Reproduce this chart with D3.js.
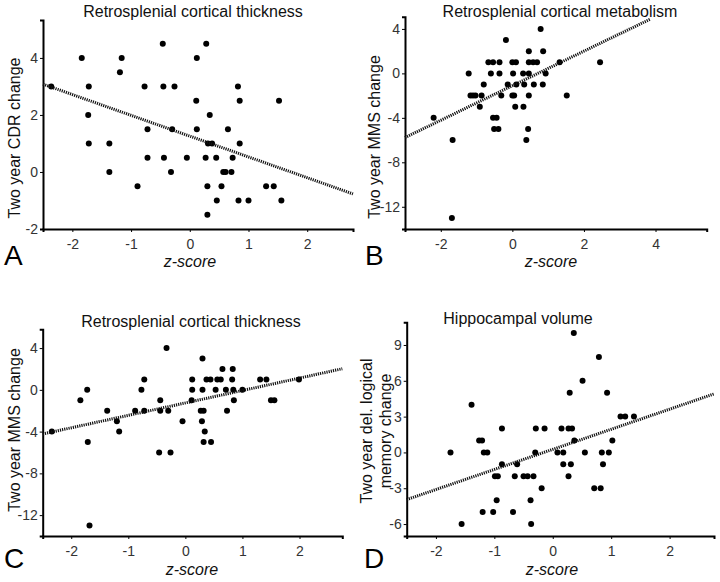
<!DOCTYPE html>
<html><head><meta charset="utf-8">
<script src="https://cdn.jsdelivr.net/npm/d3@7"></script>
<style>
body{margin:0;background:#fff}
text{font-family:"Liberation Sans",Arial,sans-serif}
</style>
</head><body>
<svg id="chart" width="720" height="582"></svg>
<script>
// ---------- data ----------
const titles = ["Retrosplenial cortical thickness","Retrosplenial cortical metabolism","Retrosplenial cortical thickness","Hippocampal volume"];
const yLabels = [["Two year CDR change"],["Two year MMS change"],["Two year MMS change"],["Two year del. logical","memory change"]];
const panelLetters = ["A","B","C","D"];
const xLabel = "z-score";

const xTicksA = [-2,-1,0,1,2];
const xTicksB = [-2,0,2,4];
const xTicksC = [-2,-1,0,1,2];
const xTicksD = [-2,-1,0,1,2];
const yTicksA = [-2,0,2,4];
const yTicksB = [-12,-8,-4,0,4];
const yTicksC = [-12,-8,-4,0,4];
const yTicksD = [-6,-3,0,3,6,9];

const xDomainA = [-2.5,2.78], yDomainA = [-2,5.33];
const xDomainB = [-3,5.43],   yDomainB = [-14,5.1];
const xDomainC = [-2.5,2.75], yDomainC = [-14,5.8];
const xDomainD = [-2.5,2.76], yDomainD = [-7,10.9];

const pointsA = [[-2.36,3],[-1.84,4],[-1.72,3],[-1.73,2],[-1.72,1],[-1.37,1],[-1.37,0],[-1.16,4],[-1.19,3.5],[-0.89,-0.5],[-0.77,3],[-0.72,1.5],[-0.72,0.5],[-0.46,4.5],[-0.45,3],[-0.44,0.5],[-0.30,1.5],[-0.32,0],[-0.26,3],[-0.05,0.5],[0.12,4],[0.11,2.5],[0.12,1.5],[0.28,4.5],[0.27,0.5],[0.30,-0.5],[0.30,-1.5],[0.31,1],[0.34,2],[0.38,1],[0.45,0.5],[0.46,-1],[0.54,-0.5],[0.57,0],[0.61,0],[0.65,1.5],[0.71,0],[0.73,0.5],[0.82,3],[0.85,2.5],[0.85,1],[0.83,-1],[1.0,-1],[1.30,-0.5],[1.43,-0.5],[1.52,2.5],[1.56,-1]];
const pointsB = [[-2.20,-4],[-1.67,-6],[-1.69,-13],[-1.22,0],[-1.17,-2],[-1.10,-2],[-1.03,-2],[-0.91,-3],[-0.86,-2],[-0.80,-1],[-0.67,1],[-0.54,1],[-0.60,0],[-0.54,-4],[-0.44,-4],[-0.51,-5],[-0.39,-5],[-0.36,1],[-0.36,0],[-0.31,-2],[-0.18,3],[-0.13,-1],[0.0,1],[0.1,1],[0.02,0],[0,-2],[0.05,-2],[0.08,-3],[0.11,-1],[0.30,0],[0.31,-3],[0.33,-1],[0.39,-6],[0.44,-5],[0.46,1],[0.58,1],[0.69,1],[0.46,2],[0.46,0],[0.46,-2],[0.60,-1],[0.79,4],[0.86,2],[0.85,-1],[0.93,0],[1.32,1],[1.52,-2],[2.45,1]];
const pointsC = [[-2.34,-4],[-1.84,-1],[-1.72,0],[-1.71,-5],[-1.68,-13],[-1.37,-2],[-1.20,-3],[-1.16,-4],[-0.88,-2],[-0.77,0],[-0.72,1],[-0.72,-2],[-0.44,-1],[-0.44,-2],[-0.30,-2],[-0.33,4],[-0.46,-6],[-0.26,-6],[-0.05,-3],[0.12,1],[0.12,0],[0.11,-1],[0.27,-2],[0.32,-2],[0.29,-3],[0.30,3],[0.30,0],[0.34,-4],[0.32,-5],[0.45,-5],[0.37,1],[0.44,1],[0.56,1],[0.62,1],[0.65,2],[0.83,2],[0.82,1],[0.53,0],[0.71,0],[0.84,0],[1.0,0],[0.85,-1],[0.73,-2],[1.31,1],[1.42,1],[1.99,1],[1.50,-1],[1.56,-1]];
const pointsD = [[-1.75,0],[-1.56,-6],[-1.39,4],[-1.26,1],[-1.21,1],[-1.18,0],[-1.12,0],[-0.87,2],[-0.87,-1],[-0.99,-2],[-0.94,-2],[-0.96,-4],[-1.20,-5],[-1.02,-5],[-0.68,-5],[-0.61,-1],[-0.65,-2],[-0.50,-2],[-0.43,-2],[-0.33,-2],[-0.38,-4],[-0.37,-6],[-0.19,-3],[-0.30,0],[-0.29,2],[-0.14,2],[0.08,0],[0.18,0],[0.15,2],[0.27,2],[0.33,2],[0.18,-1],[0.31,-1],[0.27,-2],[0.29,5],[0.36,10],[0.79,8],[0.51,6],[0.93,5],[1.16,3],[1.24,3],[1.39,3],[0.37,1],[1.02,1],[0.55,0],[0.84,0],[0.96,0],[0.86,-1],[0.71,-3],[0.82,-3]];

const fitA = [[-2.5,3.08],[2.78,-0.77]];
const fitB = [[-3,-5.77],[3.84,4.86]];
const fitC = [[-2.5,-4.23],[2.75,2.02]];
const fitD = [[-2.5,-3.95],[2.76,4.9]];

// ---------- layout ----------
const panels = [
  {pts:pointsA, fit:fitA, xd:xDomainA, yd:yDomainA, xt:xTicksA, yt:yTicksA,
   box:{l:43,r:353,t:20,b:229}, title:{x:193,y:17}, yl:{x:20,y:138}, xl:{x:190,y:267}, letter:{x:4,y:265}},
  {pts:pointsB, fit:fitB, xd:xDomainB, yd:yDomainB, xt:xTicksB, yt:yTicksB,
   box:{l:405,r:706.7,t:16.7,b:229}, title:{x:560,y:17}, yl:{x:380,y:137}, xl:{x:551,y:267}, letter:{x:365,y:265}},
  {pts:pointsC, fit:fitC, xd:xDomainC, yd:yDomainC, xt:xTicksC, yt:yTicksC,
   box:{l:42.7,r:342.3,t:329.3,b:536}, title:{x:191,y:326.5}, yl:{x:20,y:430}, xl:{x:192,y:575}, letter:{x:4,y:568}},
  {pts:pointsD, fit:fitD, xd:xDomainD, yd:yDomainD, xt:xTicksD, yt:yTicksD,
   box:{l:406.7,r:714,t:322.3,b:536}, title:{x:518,y:324}, yl:{x:391,y:431}, xl:{x:552,y:575}, letter:{x:364,y:568}}
];

const svg = d3.select("#chart");

panels.forEach((p,i)=>{
  const x = d3.scaleLinear().domain(p.xd).range([p.box.l,p.box.r]);
  const y = d3.scaleLinear().domain(p.yd).range([p.box.b,p.box.t]);
  const g = svg.append("g");

  const xa = g.append("g").attr("transform",`translate(0,${p.box.b})`)
    .call(d3.axisBottom(x).tickValues(p.xt).tickSizeOuter(0).tickSize(3).tickPadding(7).tickFormat(d=>String(d)));
  const ya = g.append("g").attr("transform",`translate(${p.box.l},0)`)
    .call(d3.axisLeft(y).tickValues(p.yt).tickSizeOuter(0).tickSize(3).tickPadding(2).tickFormat(d=>String(d)));
  [xa,ya].forEach(a=>{
    a.select(".domain").attr("stroke","#000").attr("stroke-width",2);
    a.selectAll(".tick line").attr("stroke","#000").attr("stroke-width",1);
    a.selectAll(".tick text").attr("fill","#333").style("font-size","14px")
      .style("font-family","'Liberation Sans',Arial,sans-serif");
  });

  // points
  g.append("g").selectAll("circle").data(p.pts).join("circle")
    .attr("cx",d=>x(d[0])).attr("cy",d=>y(d[1])).attr("r",3).attr("fill","#000");

  // regression line
  g.append("line")
    .attr("x1",x(p.fit[0][0])).attr("y1",y(p.fit[0][1]))
    .attr("x2",x(p.fit[1][0])).attr("y2",y(p.fit[1][1]))
    .attr("stroke","#111").attr("stroke-width",3).attr("stroke-dasharray","1.2,1");

  // title
  g.append("text").attr("x",p.title.x).attr("y",p.title.y).attr("text-anchor","middle")
    .style("font-size","16px").attr("fill","#111").text(titles[i]);

  // y label
  const lines = yLabels[i];
  lines.forEach((ln,j)=>{
    const bx = p.yl.x - (lines.length-1-j)*19;
    g.append("text").attr("transform",`translate(${bx},${p.yl.y}) rotate(-90)`)
      .attr("text-anchor","middle").style("font-size","16px").attr("fill","#111").text(ln);
  });

  // x label
  g.append("text").attr("x",p.xl.x).attr("y",p.xl.y).attr("text-anchor","middle")
    .style("font-size","16px").style("font-style","italic").attr("fill","#111").text(xLabel);

  // panel letter
  g.append("text").attr("x",p.letter.x).attr("y",p.letter.y)
    .style("font-size","28px").attr("fill","#000").text(panelLetters[i]);
});
</script>
</body></html>
